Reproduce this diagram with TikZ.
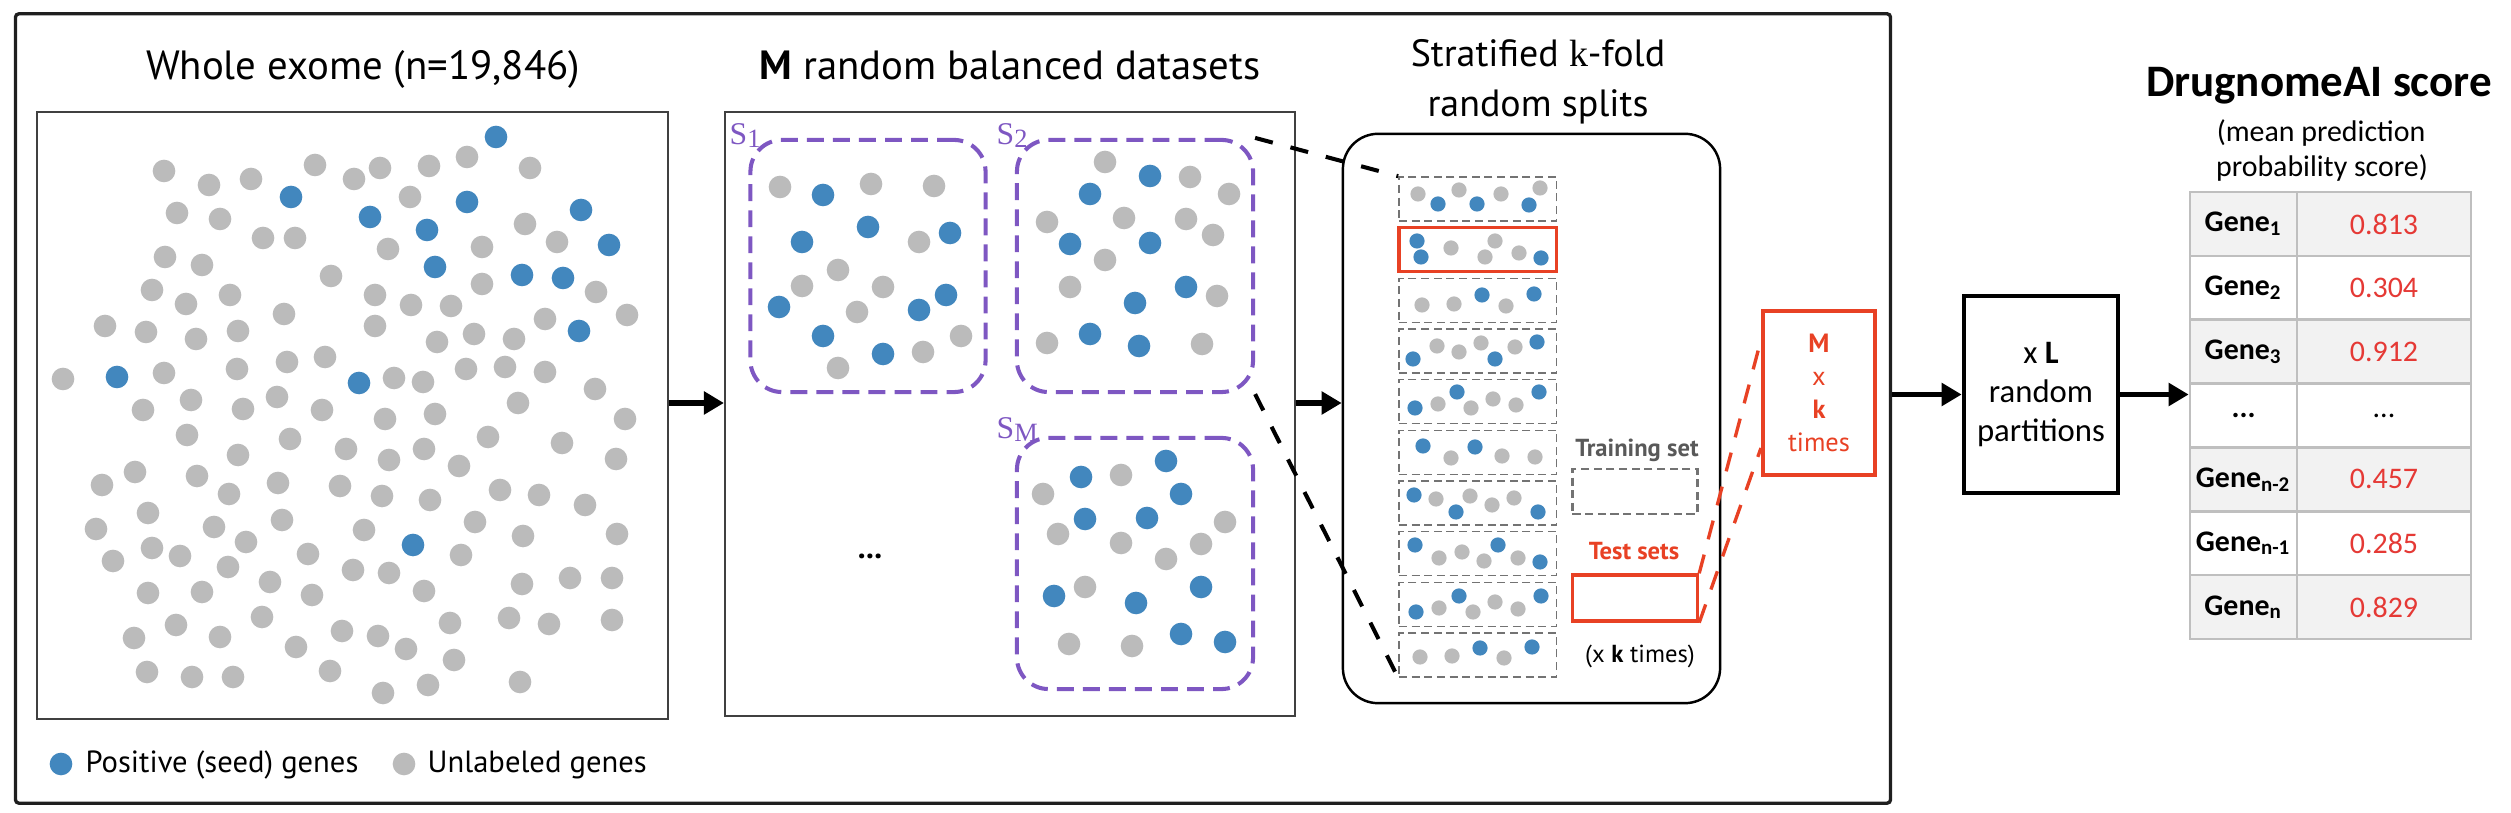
\documentclass[tikz,border=0pt]{standalone}
\usepackage{fontspec}
\setmainfont{PT Sans}
\newfontfamily\calibri{Carlito}
\newfontfamily\serifk{Liberation Serif}
\usepackage{xcolor}
\usepackage{tikz}
\usetikzlibrary{arrows.meta}

\definecolor{seedblue}{RGB}{66,135,190}
\definecolor{unlgray}{RGB}{187,187,187}
\definecolor{setpurple}{RGB}{126,87,194}
\definecolor{foldred}{RGB}{232,65,36}
\definecolor{scorered}{RGB}{229,57,53}
\definecolor{tblgray}{RGB}{191,191,191}
\definecolor{rowgray}{RGB}{242,242,242}

\begin{document}
\begin{tikzpicture}[x=0.01cm, y=-0.01cm,
    txt/.style={inner sep=0pt, anchor=base},
    ttl/.style={txt, font=\fontsize{11.6}{13}\selectfont},
    panel/.style={draw=black!75, line width=0.5pt, inner sep=0pt},
    subset/.style={draw=setpurple, line width=1.15pt, dash pattern=on 4.8pt off 2.6pt, rounded corners=9pt, inner sep=0pt},
    slbl/.style={txt, anchor=base west, text=setpurple, font=\serifk\fontsize{9}{10}\selectfont},
    foldbox/.style={draw=black!55, line width=0.45pt, dash pattern=on 2.3pt off 1.3pt, inner sep=0pt, minimum width=1.575cm, minimum height=0.44cm},
    teststrip/.style={foldbox, draw=foldred, line width=0.95pt, solid},
    seed/.style={fill=seedblue, radius=0.113cm},
    unlab/.style={fill=unlgray, radius=0.113cm},
    arr/.style={-{Triangle[length=5.7pt, width=6.3pt]}, line width=1.7pt},
    link/.style={line width=1.15pt, dash pattern=on 5.2pt off 5.2pt},
    redlink/.style={draw=foldred, line width=0.95pt, dash pattern=on 5.5pt off 4.5pt},
    cell/.style={draw=tblgray, line width=0.75pt, inner sep=0pt, minimum height=0.6386cm},
]
    \useasboundingbox (0,0) rectangle (2511,813);

    % Outer frame
    \node[draw=black!88, line width=0.95pt, rounded corners=1pt, inner sep=0pt, minimum width=18.74cm, minimum height=7.89cm] (frame) at (953,408.5) {};

    % Whole exome
    \node[ttl] (exometitle) at (363,80) {Whole exome (n=19,846)};
    \node[panel, minimum width=6.31cm, minimum height=6.07cm] (exome) at (352.5,415.5) {};
    \foreach \px/\py in {164/171, 209/185, 251/179, 315/165, 354/179, 380/168, 429/166, 467/157, 530/168,
        410/197, 177/213, 220/219, 525/224, 263/238, 295/238, 557/242, 388/249, 482/247,
        165/257, 202/265, 331/276, 482/284, 596/292, 152/290, 186/304, 230/295, 375/295,
        411/305, 451/306, 627/315, 545/319, 284/314, 105/326, 146/332, 196/339, 238/331,
        375/326, 437/342, 474/334, 514/339, 63/379, 164/373, 237/369, 287/362, 325/357,
        394/378, 423/382, 466/369, 505/367, 545/372, 595/389, 143/410, 191/400, 243/409,
        277/397, 322/410, 385/419, 435/414, 518/403, 625/419,
        187/435, 290/439, 238/455, 346/449, 389/460, 424/449, 459/466, 488/437, 562/443, 616/459,
        102/485, 135/472, 197/476, 229/494, 278/483, 340/486, 382/496, 430/500, 500/490, 539/495, 585/505,
        148/513, 96/529, 214/527, 282/520, 364/530, 475/522, 523/536, 617/534, 246/542,
        152/548, 180/556, 113/561, 228/567, 308/554, 461/555, 353/570, 389/573, 270/582,
        148/593, 202/592, 312/595, 424/591, 522/584, 570/578, 612/578,
        262/617, 176/625, 450/623, 509/618, 549/624, 612/620,
        134/638, 220/637, 342/631, 378/636, 406/649, 296/647, 454/660,
        147/672, 192/677, 233/677, 330/671, 428/685, 383/693, 520/682}
        \fill[unlab] (\px,\py) circle;
    \foreach \px/\py in {496/137, 291/197, 467/202, 581/210, 370/217, 427/230, 609/245,
        435/267, 522/275, 563/278, 579/331, 117/377, 359/383, 413/545}
        \fill[seed] (\px,\py) circle;

    % Legend
    \fill[seed] (61,764) circle;
    \node[txt, anchor=base west, font=\fontsize{8.7}{10}\selectfont] (legseed) at (85,773) {Positive (seed) genes};
    \fill[unlab] (404,764) circle;
    \node[txt, anchor=base west, font=\fontsize{8.7}{10}\selectfont] (legunl) at (427,773) {Unlabeled genes};

    % Balanced datasets
    \node[ttl] (setstitle) at (1010,80) {\textbf{M} random balanced datasets};
    \node[panel, minimum width=5.70cm, minimum height=6.04cm] (sets) at (1010,414) {};
    \node[subset, minimum width=2.35cm, minimum height=2.52cm] (s1) at (868,266) {};
    \node[subset, minimum width=2.36cm, minimum height=2.52cm] (s2) at (1135,266) {};
    \node[subset, minimum width=2.36cm, minimum height=2.51cm] (sm) at (1135,563.5) {};
    \node[slbl] (s1lbl) at (729,145) {S\raisebox{-0.15ex}{\fontsize{7.5}{8}\selectfont 1}};
    \node[slbl] (s2lbl) at (996,145) {S\raisebox{-0.15ex}{\fontsize{7.5}{8}\selectfont 2}};
    \node[slbl] (smlbl) at (996,439) {S\raisebox{-0.15ex}{\fontsize{7.5}{8}\selectfont M}};
    \node[font=\bfseries\fontsize{9}{10}\selectfont] (more) at (870,556) {...};
    \foreach \px/\py in {780/187, 871/184, 934/186, 919/242, 838/270, 802/286, 883/287, 857/312, 961/336, 923/352, 838/368,
        1105/162, 1190/177, 1229/194, 1047/222, 1124/218, 1186/219, 1213/235, 1105/260, 1070/287, 1217/296, 1047/343, 1202/344,
        1043/494, 1121/475, 1058/534, 1225/522, 1121/543, 1201/544, 1166/559, 1085/587, 1069/644, 1132/646}
        \fill[unlab] (\px,\py) circle;
    \foreach \px/\py in {823/195, 802/242, 868/227, 950/233, 779/307, 919/310, 946/295, 823/336, 883/354,
        1150/176, 1090/194, 1070/244, 1150/243, 1186/287, 1135/303, 1090/334, 1139/346,
        1081/477, 1166/461, 1181/494, 1085/519, 1147/518, 1054/596, 1136/603, 1201/587, 1181/634, 1225/642}
        \fill[seed] (\px,\py) circle;

    % k-fold splits
    \node[ttl, font=\fontsize{10.8}{13}\selectfont] (ktitle1) at (1538,67) {Stratified {\serifk k}-fold};
    \node[ttl, font=\fontsize{10.8}{13}\selectfont] (ktitle2) at (1538,117) {random splits};
    \node[draw, line width=0.7pt, rounded corners=10pt, inner sep=0pt, minimum width=3.77cm, minimum height=5.69cm] (kfold) at (1531.5,418.5) {};
    \foreach \i/\sty in {1/foldbox, 2/teststrip, 3/foldbox, 4/foldbox, 5/foldbox, 6/foldbox, 7/foldbox, 8/foldbox, 9/foldbox, 10/foldbox}
        \node[\sty] (strip\i) at (1477.75, {199+(\i-1)*50.67}) {};
    \foreach \px/\py in {1418/194, 1459/190, 1501/194, 1540/188, 1451/248, 1495/241, 1485/257, 1519/253,
        1422/305, 1454/304, 1506/306, 1437/346, 1459/352, 1481/343, 1515/347,
        1438/404, 1471/408, 1493/399, 1516/405, 1451/458, 1502/456, 1535/457,
        1436/499, 1470/496, 1492/505, 1514/498, 1439/558, 1462/552, 1484/561, 1518/558,
        1439/608, 1473/612, 1495/602, 1518/609, 1420/657, 1452/656, 1504/658}
        \fill[unlab, radius=0.076cm] (\px,\py) circle;
    \foreach \px/\py in {1438/204, 1477/204, 1529/205, 1417/241, 1421/257, 1541/258, 1482/295, 1534/294,
        1413/359, 1495/359, 1537/342, 1415/408, 1457/392, 1539/392, 1423/446, 1475/447,
        1414/495, 1456/512, 1538/512, 1415/545, 1498/545, 1540/562, 1416/612, 1459/596, 1541/596,
        1480/648, 1532/647}
        \fill[seed, radius=0.076cm] (\px,\py) circle;

    % Training / test sets
    \node[txt, text=black!65, font=\bfseries\fontsize{7}{8}\selectfont] (trainlbl) at (1637,457) {Training set};
    \node[foldbox, line width=0.6pt, minimum width=1.25cm, minimum height=0.45cm] (train) at (1635,491.5) {};
    \node[txt, text=foldred, font=\bfseries\fontsize{7}{8}\selectfont] (testlbl) at (1634,560) {Test sets};
    \node[teststrip, minimum width=1.25cm, minimum height=0.46cm] (test) at (1635,598) {};
    \node[txt, font=\fontsize{7}{8}\selectfont] (ktimes) at (1640,663) {(x \textbf{k} times)};

    % M x k
    \node[draw=foldred, line width=1.15pt, inner sep=0pt, minimum width=1.12cm, minimum height=1.64cm, align=center, text=foldred, font=\fontsize{7.5}{9.4}\selectfont] (mk) at (1819,393) {\textbf{M}\\x\\\textbf{k}\\times};

    % L partitions
    \node[draw, line width=1.15pt, inner sep=0pt, minimum width=1.545cm, minimum height=1.97cm, align=center, font=\calibri\fontsize{9.3}{11.1}\selectfont] (lbox) at (2041,394.5) {x \textbf{L}\\random\\partitions};

    % Score table
    \node[txt, font=\calibri\bfseries\fontsize{12.8}{14}\selectfont] (score) at (2319,97) {DrugnomeAI score};
    \node[txt, font=\calibri\fontsize{8.5}{9}\selectfont] (mean1) at (2321,142) {(mean prediction};
    \node[txt, font=\calibri\fontsize{8.5}{9}\selectfont] (mean2) at (2322,177) {probability score)};
    \foreach \r/\gname/\val/\shade in {1/{Gene\textsubscript{1}}/0.813/rowgray, 2/{Gene\textsubscript{2}}/0.304/white,
        3/{Gene\textsubscript{3}}/0.912/rowgray, 4/{...}/{\color{black}...}/white, 5/{Gene\textsubscript{n-2}}/0.457/rowgray,
        6/{Gene\textsubscript{n-1}}/0.285/white, 7/{Gene\textsubscript{n}}/0.829/rowgray}
    {
        \node[cell, fill=\shade, minimum width=1.07cm, font=\calibri\bfseries\fontsize{8.5}{10}\selectfont] (g\r) at (2243.5, {192+63.86*(\r-0.5)}) {\gname};
        \node[cell, fill=\shade, minimum width=1.74cm, text=scorered, font=\calibri\fontsize{8.5}{10}\selectfont] (v\r) at (2384, {192+63.86*(\r-0.5)}) {\val};
    }

    % Arrows
    \coordinate (flow) at (0,403);
    \draw[arr] (exome.east |- flow) -- (sets.west |- flow);
    \draw[arr] (sets.east |- flow) -- (kfold.west |- flow);
    \draw[arr] (frame.east |- lbox) -- (lbox);
    \draw[arr] (lbox) -- (g1.west |- lbox);

    % Links
    \draw[link] (s2.north east) -- (strip1.north west);
    \draw[link] (s2.south east) -- (strip10.south west);
    \draw[redlink] (test.north east) -- ([yshift=0.53cm]mk.west);
    \draw[redlink] (test.south east) -- ([yshift=-0.55cm]mk.west);

\end{tikzpicture}
\end{document}
